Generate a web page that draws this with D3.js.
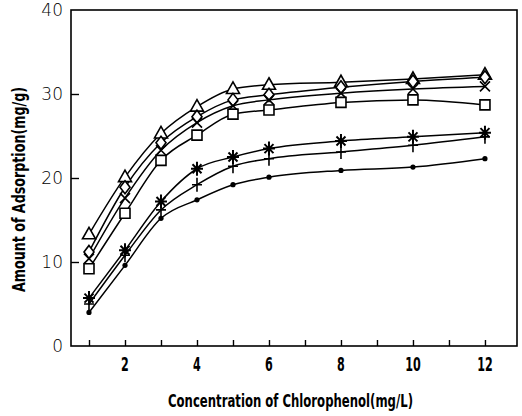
<!DOCTYPE html>
<html>
<head>
<meta charset="utf-8">
<script src="https://cdn.jsdelivr.net/npm/d3@7"></script>
<style>
body { margin: 0; background: #fff; }
</style>
</head>
<body>
<div id="chart-area"></div>
<script>
// data
var conc = [1, 2, 3, 4, 5, 6, 8, 10, 12];
var triangleSeries = [13.3, 20.1, 25.3, 28.5, 30.6, 31.1, 31.4, 31.8, 32.3];
var diamondSeries  = [11.2, 18.9, 24.2, 27.3, 29.3, 29.9, 30.8, 31.5, 32.0];
var crossSeries    = [10.4, 17.6, 23.3, 26.6, 28.6, 29.3, 30.1, 30.6, 30.9];
var squareSeries   = [9.2, 15.8, 22.1, 25.1, 27.6, 28.1, 29.0, 29.3, 28.7];
var starSeries     = [5.7, 11.4, 17.2, 21.1, 22.5, 23.5, 24.4, 24.9, 25.4];
var plusSeries     = [5.0, 10.8, 16.2, 19.2, 21.4, 22.3, 23.1, 23.9, 24.9];
var dotSeries      = [4.0, 9.6, 15.2, 17.4, 19.2, 20.1, 20.9, 21.3, 22.3];
var yTicks = [0, 10, 20, 30, 40];
var xTicks = [1, 2, 3, 4, 5, 6, 7, 8, 9, 10, 11, 12];
var xLabels = [2, 4, 6, 8, 10, 12];

var series = [
  {values: triangleSeries, marker: "triangle"},
  {values: diamondSeries, marker: "diamond"},
  {values: crossSeries, marker: "cross"},
  {values: squareSeries, marker: "square"},
  {values: starSeries, marker: "star"},
  {values: plusSeries, marker: "plus"},
  {values: dotSeries, marker: "dot"}
];

var W = 522, H = 416;
var margin = {left: 71, right: 5, top: 10, bottom: 70};
var width = W - margin.left - margin.right;
var height = H - margin.top - margin.bottom;

var svg = d3.select("#chart-area").append("svg")
  .attr("width", W)
  .attr("height", H);
var g = svg.append("g")
  .attr("transform", "translate(" + margin.left + ", " + margin.top + ")");

var x = d3.scaleLinear().domain([0.5, 12.89]).range([0, width]);
var y = d3.scaleLinear().domain([0, 40]).range([height, 0]);

// frame
g.append("rect")
  .attr("x", 0).attr("y", 0)
  .attr("width", width).attr("height", height)
  .attr("fill", "none")
  .attr("stroke", "#000")
  .attr("stroke-width", 1.6);

// inward ticks
var bottomAxis = d3.axisBottom(x).tickValues(xTicks).tickSize(-6).tickFormat("");
g.append("g").attr("transform", "translate(0, " + height + ")").call(bottomAxis)
  .call(function(a) { a.select(".domain").remove(); })
  .selectAll("line").attr("stroke-width", 1.4);
var leftAxis = d3.axisLeft(y).tickValues([10, 20, 30]).tickSize(-8).tickFormat("");
g.append("g").call(leftAxis)
  .call(function(a) { a.select(".domain").remove(); })
  .selectAll("line").attr("stroke-width", 1.4);

// tick labels
g.selectAll(".ylab").data(yTicks).enter().append("text")
  .attr("class", "ylab")
  .attr("x", -8)
  .attr("y", function(d) { return y(d); })
  .attr("dy", "0.36em")
  .attr("text-anchor", "end")
  .attr("font-family", "DejaVu Sans")
  .attr("font-weight", 300)
  .attr("font-size", "17px")
  .text(function(d) { return d; });

g.selectAll(".xlab").data(xLabels).enter().append("text")
  .attr("class", "xlab")
  .attr("x", function(d) { return x(d); })
  .attr("y", height + 25)
  .attr("text-anchor", "middle")
  .attr("font-family", "DejaVu Sans Condensed")
  .attr("font-weight", "bold")
  .attr("font-size", "20px")
  .attr("transform", function(d) { return "translate(" + x(d) + ",0) scale(0.62,1) translate(" + (-x(d)) + ",0)"; })
  .text(function(d) { return d; });

// axis titles
svg.append("text")
  .attr("x", 168)
  .attr("y", 407)
  .attr("font-family", "DejaVu Sans Condensed")
  .attr("font-weight", "bold")
  .attr("font-size", "18px")
  .attr("textLength", 245)
  .attr("lengthAdjust", "spacingAndGlyphs")
  .text("Concentration of Chlorophenol(mg/L)");

svg.append("text")
  .attr("transform", "translate(25, 292) rotate(-90)")
  .attr("font-family", "DejaVu Sans Condensed")
  .attr("font-weight", "bold")
  .attr("font-size", "17px")
  .attr("textLength", 205)
  .attr("lengthAdjust", "spacingAndGlyphs")
  .text("Amount of Adsorption(mg/g)");

// curves
var line = d3.line()
  .x(function(d, i) { return x(conc[i]); })
  .y(function(d) { return y(d); })
  .curve(d3.curveMonotoneX);

g.selectAll(".curve").data(series).enter().append("path")
  .attr("class", "curve")
  .attr("d", function(s) { return line(s.values); })
  .attr("fill", "none")
  .attr("stroke", "#000")
  .attr("stroke-width", 1.5);

// markers
function markerPath(type) {
  var p = d3.path();
  if (type == "triangle") {
    p.moveTo(0, -7); p.lineTo(6.5, 4.5); p.lineTo(-6.5, 4.5); p.closePath();
  } else if (type == "diamond") {
    p.moveTo(0, -6.5); p.lineTo(5, 0); p.lineTo(0, 6.5); p.lineTo(-5, 0); p.closePath();
  } else if (type == "square") {
    p.rect(-5, -5, 10, 10);
  } else if (type == "cross") {
    p.moveTo(-5, -5); p.lineTo(5, 5); p.moveTo(5, -5); p.lineTo(-5, 5);
  } else if (type == "plus") {
    p.moveTo(0, -7); p.lineTo(0, 7); p.moveTo(-5, 0); p.lineTo(5, 0);
  } else if (type == "star") {
    p.moveTo(0, -7); p.lineTo(0, 7); p.moveTo(-6, 0); p.lineTo(6, 0);
    p.moveTo(-4.5, -4.5); p.lineTo(4.5, 4.5); p.moveTo(4.5, -4.5); p.lineTo(-4.5, 4.5);
  }
  return p.toString();
}

series.forEach(function(s) {
  var grp = g.append("g");
  if (s.marker == "dot") {
    grp.selectAll("circle").data(s.values).enter().append("circle")
      .attr("cx", function(d, i) { return x(conc[i]); })
      .attr("cy", function(d) { return y(d); })
      .attr("r", 2.6)
      .attr("fill", "#000");
  } else {
    var open = ["triangle", "diamond", "square"].indexOf(s.marker) >= 0;
    grp.selectAll("path").data(s.values).enter().append("path")
      .attr("transform", function(d, i) { return "translate(" + x(conc[i]) + "," + y(d) + ")"; })
      .attr("d", markerPath(s.marker))
      .attr("fill", open ? "#fff" : "none")
      .attr("stroke", "#000")
      .attr("stroke-width", s.marker == "star" ? 2 : 1.6);
  }
});
</script>
</body>
</html>
